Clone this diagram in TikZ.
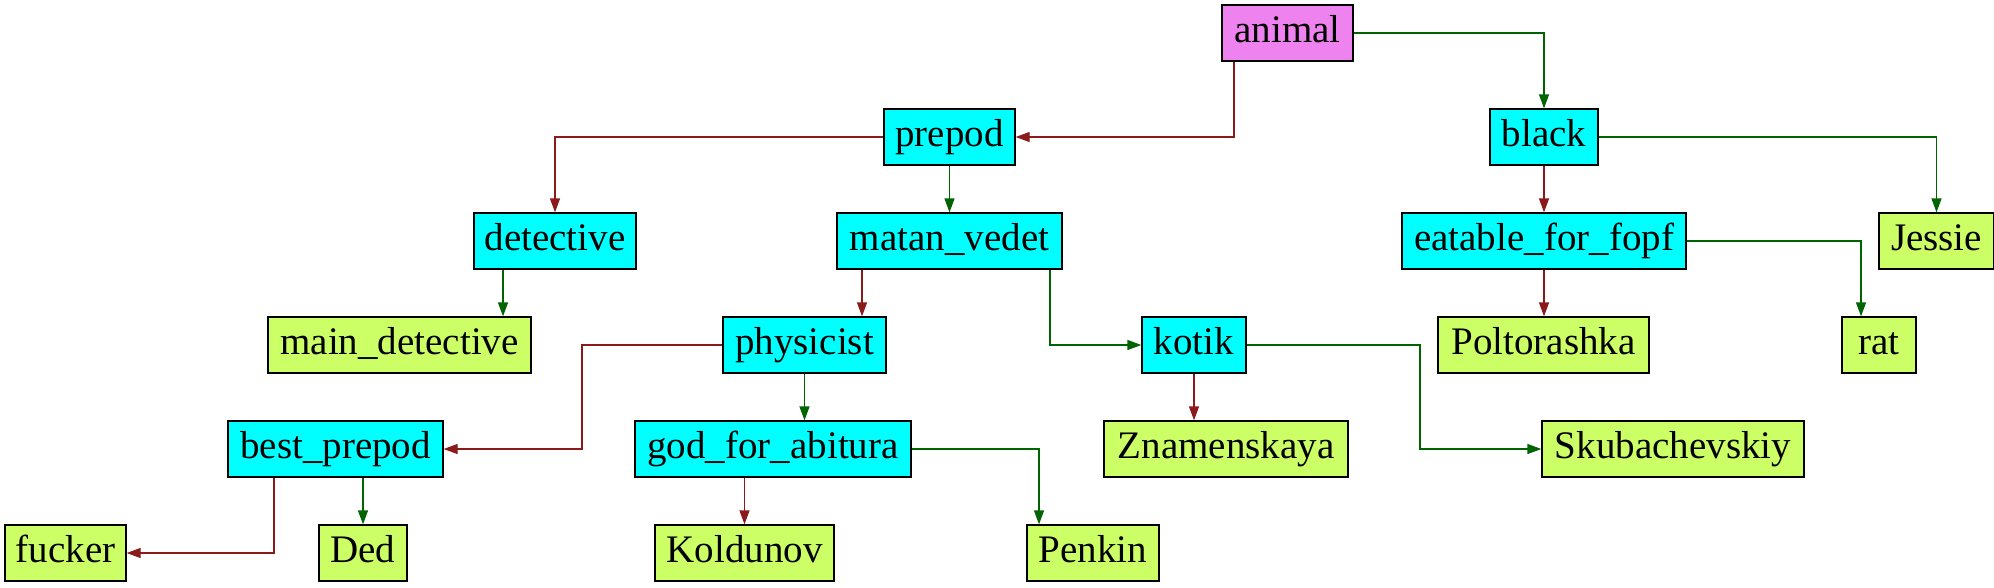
\documentclass[tikz,border=0pt]{standalone}
\usepackage{fontspec}
\setmainfont{Liberation Serif}
\usetikzlibrary{arrows.meta}
\definecolor{rootcol}{HTML}{EE82EE}
\definecolor{innercol}{HTML}{00FFFF}
\definecolor{leafcol}{HTML}{CCFF66}
\definecolor{nocol}{HTML}{8B1A1A}
\definecolor{yescol}{HTML}{006400}
\begin{document}
\begin{tikzpicture}[x=0.75pt,y=-0.75pt]
  	\tikzstyle{every node}=[draw=black, line width=1pt, inner sep=0pt, minimum height=42pt, text height=20.5pt, text depth=7pt, font=\fontsize{29.25}{32}\selectfont]
  	\tikzstyle{root}=[fill=rootcol]
  	\tikzstyle{inner}=[fill=innercol]
  	\tikzstyle{leaf}=[fill=leafcol]
  	\tikzstyle{noedge}=[nocol, line width=1pt, -{Triangle[length=10.5pt, width=7.5pt]}]
  	\tikzstyle{yesedge}=[yescol, line width=1pt, -{Triangle[length=10.5pt, width=7.5pt]}]
  	\useasboundingbox (0,0) rectangle (1994,587);
  	% questions
  	\node[root, minimum width=98.25pt] (animal) at (1287.5,33) {animal};
  	\node[inner, minimum width=98.25pt] (prepod) at (949.5,137) {prepod};
  	\node[inner, minimum width=81pt] (black) at (1544,137) {black};
  	\node[inner, minimum width=121.5pt] (detective) at (555,241) {detective};
  	\node[inner, minimum width=168.75pt] (matan) at (949.5,241) {matan\_vedet};
  	\node[inner, minimum width=213pt] (eatable) at (1544,241) {eatable\_for\_fopf};
  	\node[inner, minimum width=122.25pt] (physicist) at (804.5,345) {physicist};
  	\node[inner, minimum width=78pt] (kotik) at (1194,345) {kotik};
  	\node[inner, minimum width=161.25pt] (bestprepod) at (335.5,449) {best\_prepod};
  	\node[inner, minimum width=207pt] (god) at (773,449) {god\_for\_abitura};
  	% answers
  	\node[leaf, minimum width=86.25pt] (jessie) at (1936.5,241) {Jessie};
  	\node[leaf, minimum width=197.25pt] (maindet) at (399.5,345) {main\_detective};
  	\node[leaf, minimum width=158.25pt] (poltorashka) at (1543.5,345) {Poltorashka};
  	\node[leaf, minimum width=55.5pt] (rat) at (1879,345) {rat};
  	\node[leaf, minimum width=183pt] (znamenskaya) at (1226,449) {Znamenskaya};
  	\node[leaf, minimum width=196.5pt] (skub) at (1673,449) {Skubachevskiy};
  	\node[leaf, minimum width=90.75pt] (fucker) at (65.5,553) {fucker};
  	\node[leaf, minimum width=66pt] (ded) at (363,553) {Ded};
  	\node[leaf, minimum width=134.25pt] (koldunov) at (744.5,553) {Koldunov};
  	\node[leaf, minimum width=99pt] (penkin) at (1093,553) {Penkin};
  	% bends
  	\coordinate (ca) at (1234,137);
  	\coordinate (cd) at (503,241);
  	\coordinate (cm) at (862,241);
  	\coordinate (ck) at (1050,345);
  	\coordinate (cr) at (1861,241);
  	\coordinate (cp) at (582,449);
  	\coordinate (cs) at (1420,449);
  	\coordinate (cf) at (274,553);
  	\coordinate (cg) at (1039,449);
  	% edges
  	\draw[noedge] (animal.south -| ca) |- (prepod);
  	\draw[yesedge] (animal) -| (black);
  	\draw[noedge] (prepod) -| (detective);
  	\draw[yesedge] (prepod) -- (matan);
  	\draw[noedge] (black) -- (eatable);
  	\draw[yesedge] (black) -| (jessie);
  	\draw[yesedge] (detective.south -| cd) -- (maindet.north -| cd);
  	\draw[noedge] (matan.south -| cm) -- (physicist.north -| cm);
  	\draw[yesedge] (matan.south -| ck) |- (kotik);
  	\draw[noedge] (eatable.south) -- (eatable.south |- poltorashka.north);
  	\draw[yesedge] (eatable) -| (rat.north -| cr);
  	\draw[noedge] (physicist) -| (cp) -- (bestprepod);
  	\draw[yesedge] (physicist.south) -- (physicist.south |- god.north);
  	\draw[noedge] (kotik.south) -- (kotik.south |- znamenskaya.north);
  	\draw[yesedge] (kotik) -| (cs) -- (skub);
  	\draw[noedge] (bestprepod.south -| cf) |- (fucker);
  	\draw[yesedge] (ded.north |- bestprepod.south) -- (ded);
  	\draw[noedge] (koldunov.north |- god.south) -- (koldunov);
  	\draw[yesedge] (god) -| (penkin.north -| cg);
\end{tikzpicture}
\end{document}
